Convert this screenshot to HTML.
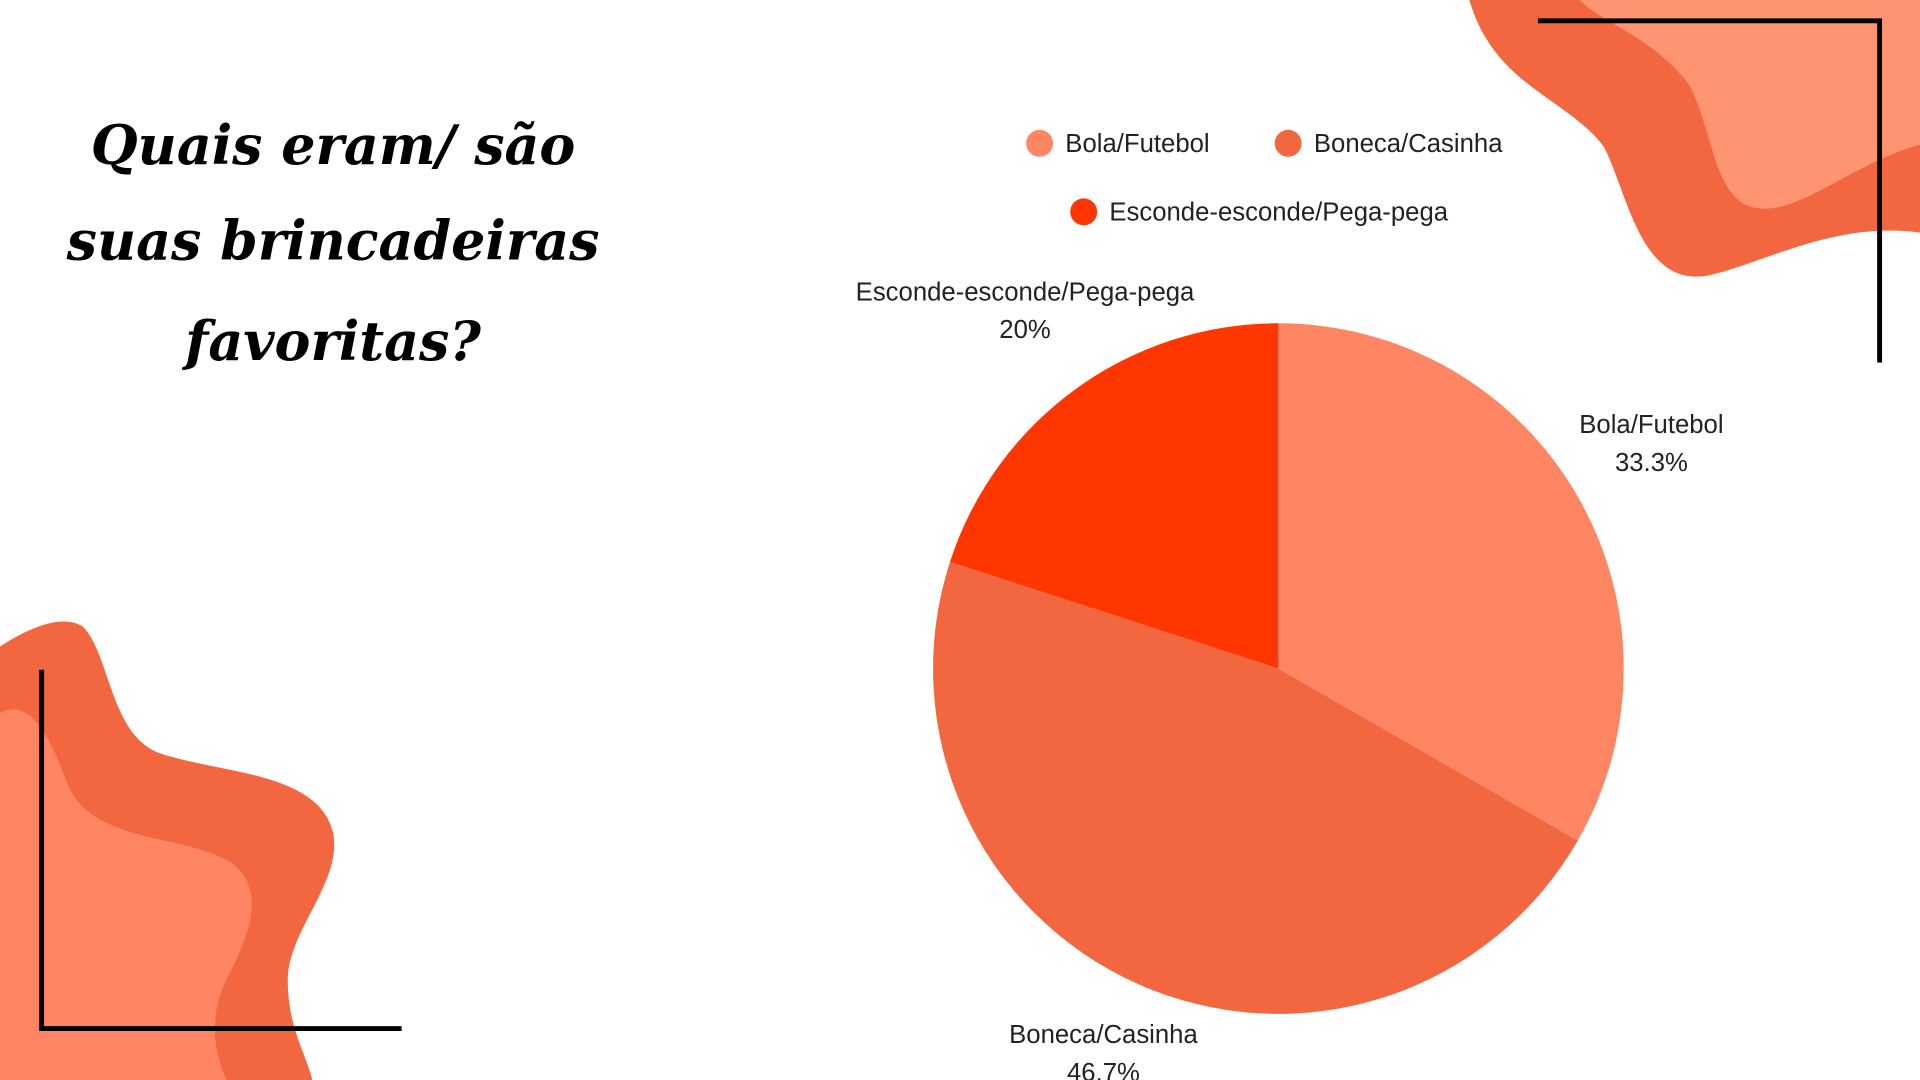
<!DOCTYPE html>
<html><head><meta charset="utf-8"><style>
html,body{margin:0;padding:0;background:#fff;width:1920px;height:1080px;overflow:hidden}
svg{display:block}
text{font-family:"Liberation Sans","DejaVu Sans",sans-serif}
</style></head><body>
<svg width="1920" height="1080" viewBox="0 0 1568 882" preserveAspectRatio="none">
  <rect width="1568" height="882" fill="#fff"/>
  <g>
    <path d="M1200,0 L1568,0 L1568,190 C1500,180 1440,215 1395,225 C1340,235 1330,160 1310,120 C1280,80 1220,70 1200,0 Z" fill="#F26640"/>
    <path d="M1290,0 L1568,0 L1568,118 C1510,135 1470,175 1435,170 C1400,165 1400,110 1380,70 C1350,30 1310,20 1290,0 Z" fill="#FF9473"/>
    <polyline points="1256,17 1535,17 1535,296" fill="none" stroke="#000" stroke-width="4"/>
  </g>
  <g>
    <path d="M0,528 C20,515 50,500 68,512 C90,535 90,600 130,615 C180,632 260,630 272,680 C280,720 235,760 235,800 C235,840 250,860 255,882 L0,882 Z" fill="#F26640"/>
    <path d="M0,582 C25,570 40,600 55,640 C75,690 150,680 190,705 C220,730 200,770 185,800 C170,830 175,860 185,882 L0,882 Z" fill="#FF8563"/>
    <polyline points="34,547 34,840 328,840" fill="none" stroke="#000" stroke-width="4"/>
  </g>
  <g font-style="italic" font-weight="bold" font-size="44" text-anchor="middle" fill="#000">
    <text x="272" y="134" style="font-family:'DejaVu Serif',serif">Quais eram/ são</text>
    <text x="272" y="212" style="font-family:'DejaVu Serif',serif">suas brincadeiras</text>
    <text x="272" y="294" style="font-family:'DejaVu Serif',serif">favoritas?</text>
  </g>
  <g id="legend"></g>
  <g id="pie"></g>
  <g id="labels"></g>
</svg>
<script>
const categories = ["Bola/Futebol", "Boneca/Casinha", "Esconde-esconde/Pega-pega"];
const values = [33.3, 46.7, 20];
const valueLabels = ["33.3%", "46.7%", "20%"];
const colors = ["#FF8563", "#F26640", "#FF3600"];

const NS = "http://www.w3.org/2000/svg";
const cx = 1044, cy = 546, r = 282, lr = 352;
const total = values.reduce((a, b) => a + b, 0);
function pt(frac, rad) {
  const a = frac * 2 * Math.PI;
  return [cx + rad * Math.sin(a), cy - rad * Math.cos(a)];
}
const pie = document.getElementById("pie");
const labels = document.getElementById("labels");
let acc = 0;
values.forEach((v, i) => {
  const f0 = acc / total, f1 = (acc + v) / total;
  acc += v;
  const [x0, y0] = pt(f0, r), [x1, y1] = pt(f1, r);
  const large = (f1 - f0) > 0.5 ? 1 : 0;
  const p = document.createElementNS(NS, "path");
  p.setAttribute("d", `M${cx},${cy} L${x0},${y0} A${r},${r} 0 ${large} 1 ${x1},${y1} Z`);
  p.setAttribute("fill", colors[i]);
  
  
  pie.appendChild(p);
  const [lx, ly] = pt((f0 + f1) / 2, lr);
  const t = document.createElementNS(NS, "text");
  t.setAttribute("x", lx); t.setAttribute("y", ly - 16);
  t.setAttribute("text-anchor", "middle"); t.setAttribute("font-size", "21"); t.setAttribute("fill", "#222");
  t.textContent = categories[i];
  
  
  labels.appendChild(t);
  const t2 = document.createElementNS(NS, "text");
  t2.setAttribute("x", lx); t2.setAttribute("y", ly + 15);
  t2.setAttribute("text-anchor", "middle"); t2.setAttribute("font-size", "21"); t2.setAttribute("fill", "#222");
  t2.textContent = valueLabels[i];
  
  
  labels.appendChild(t2);
});
const legend = document.getElementById("legend");
const legendPos = [[849, 117], [1052, 117], [885, 173]];
categories.forEach((c, i) => {
  const g = document.createElementNS(NS, "g");
  
  
  const dot = document.createElementNS(NS, "circle");
  dot.setAttribute("cx", legendPos[i][0] + (i === 1 ? 0 : 0)); dot.setAttribute("cy", legendPos[i][1]);
  dot.setAttribute("r", 11); dot.setAttribute("fill", colors[i]);
  
  
  g.appendChild(dot);
  const t = document.createElementNS(NS, "text");
  t.setAttribute("x", legendPos[i][0] + 21); t.setAttribute("y", legendPos[i][1] + 7);
  t.setAttribute("font-size", "21"); t.setAttribute("fill", "#222");
  t.textContent = c;
  
  
  g.appendChild(t);
  legend.appendChild(g);
});
</script>
</body></html>
